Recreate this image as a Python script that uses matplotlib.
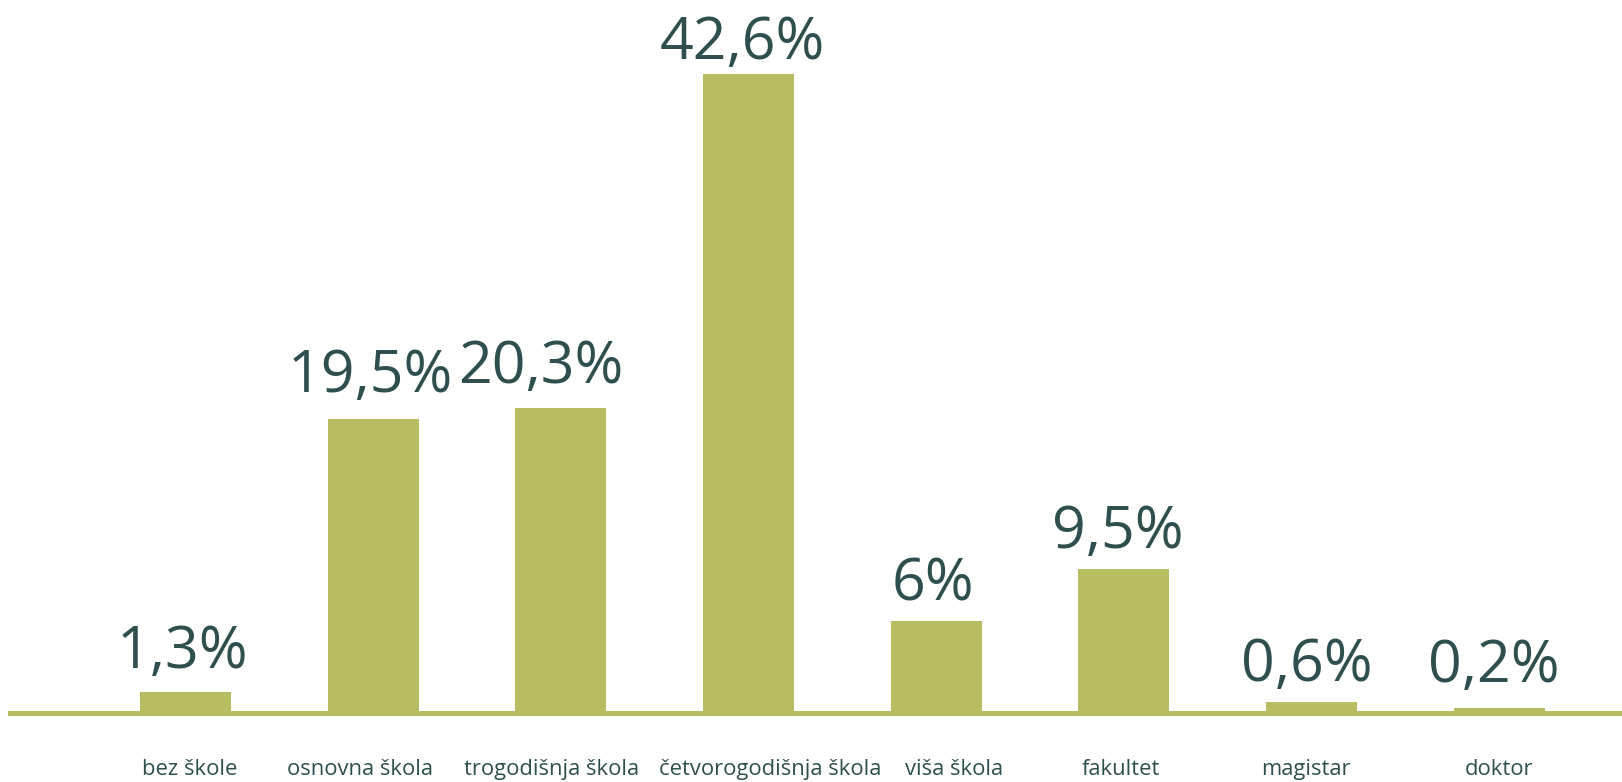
import matplotlib.pyplot as plt

categories = ["bez škole", "osnovna škola", "trogodišnja škola",
              "četvorogodišnja škola", "viša škola", "fakultet",
              "magistar", "doktor"]
values = [1.3, 19.5, 20.3, 42.6, 6.0, 9.5, 0.6, 0.2]
value_labels = ["1,3%", "19,5%", "20,3%", "42,6%", "6%", "9,5%", "0,6%", "0,2%"]

bar_color = "#B8BD62"
text_color = "#2F4F4F"
# hand placed labels in the original: nudges in pixels
label_shift_px = [4, -13, -9, 22, 18, -3, -6, 0]
value_dx_px = [-3.5, -3, -20, -6.5, -3, -5.5, -5, -5]
value_gap_px = [24, 27, 25, 15, 21, 21, 21, 26]
plt.rcParams['font.family'] = ['Open Sans', 'DejaVu Sans']

W, H = 1622, 782
fig = plt.figure(figsize=(W / 100, H / 100), dpi=100)
ax = fig.add_axes([10 / W, 71 / H, 1 - 10 / W, 711 / H])

x = list(range(len(categories)))
ax.bar(x, values, width=0.485, color=bar_color)
ax.set_xlim(-0.935, 7.655)
ax.set_ylim(0, 711 / 14.95)

for s in ["top", "left", "right"]:
    ax.spines[s].set_visible(False)
ax.spines["bottom"].set_color(bar_color)
ax.spines["bottom"].set_linewidth(3.6)
ax.spines["bottom"].set_position(("outward", 1.6))
ax.set_xticks([])
ax.set_yticks([])

px = 0.72  # points per pixel at dpi 100
for i, (v, lab) in enumerate(zip(values, value_labels)):
    ax.annotate(lab, (i, v), xytext=(value_dx_px[i] * px, value_gap_px[i] * px),
                textcoords="offset points", ha="center", va="baseline",
                fontsize=42.5, color=text_color)

for i, cat in enumerate(categories):
    ax.annotate(cat, (i, 0), xycoords=("data", "axes fraction"),
                xytext=(label_shift_px[i] * px, -46), textcoords="offset points",
                ha="center", va="baseline", fontsize=15.8, color=text_color)

fig.savefig("out.png", dpi=100)
